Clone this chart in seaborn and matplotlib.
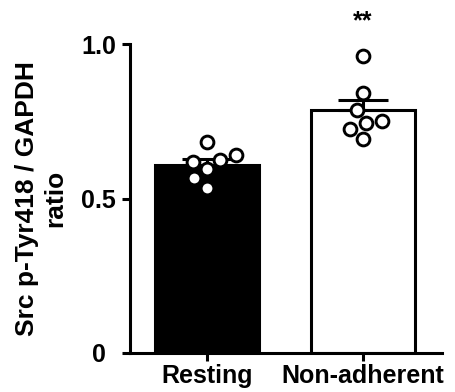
import matplotlib
matplotlib.use("Agg")
import matplotlib.pyplot as plt
import seaborn as sns
import numpy as np
import pandas as pd

groups = ["Resting", "Non-adherent"]
resting_vals = [0.684, 0.641, 0.625, 0.619, 0.595, 0.565, 0.535]
nonadherent_vals = [0.961, 0.842, 0.786, 0.751, 0.743, 0.724, 0.693]
yticks = [0, 0.5, 1.0]
ytick_labels = ["0", "0.5", "1.0"]
bar_colors = ["black", "white"]
ylabel = "Src p-Tyr418 / GAPDH\nratio"
signif = "**"

sns.set_theme(style="ticks")
plt.rcParams["font.family"] = ["Liberation Sans", "DejaVu Sans"]
plt.rcParams["font.weight"] = "bold"
for k in ["text.color", "axes.labelcolor", "xtick.color", "ytick.color",
          "axes.edgecolor"]:
    plt.rcParams[k] = "black"

df = pd.DataFrame({
    "group": [groups[0]] * len(resting_vals) + [groups[1]] * len(nonadherent_vals),
    "value": resting_vals + nonadherent_vals,
})

W, H = 455, 392
x0, x1, yb, yt = 130, 442, 353, 44
fig = plt.figure(figsize=(W / 100, H / 100), dpi=100)
ax = fig.add_axes([x0 / W, (H - yb) / H, (x1 - x0) / W, (yb - yt) / H])
XLIM = (-0.494, 1.506)
ax.set_ylim(0, 1.0)
ax.set_xlim(*XLIM)

sns.barplot(data=df, x="group", y="value", hue="group", palette=bar_colors,
            order=groups, hue_order=groups, errorbar=None, width=0.67,
            edgecolor="black", linewidth=2.2, legend=False, ax=ax, zorder=1)

stats = df.groupby("group")["value"].agg(["mean", "sem"]).reindex(groups)
ax.errorbar(np.arange(len(groups)), stats["mean"].values,
            yerr=[np.zeros(len(groups)), stats["sem"].values],
            fmt="none", ecolor="black", elinewidth=2.2, capsize=18, capthick=2.2,
            zorder=2)

ax.set_xlim(*XLIM)
ax.set_ylim(0, 1.0)
sns.swarmplot(data=df, x="group", y="value", order=groups, color="white",
              edgecolor="black", linewidth=2.1, size=9.2, ax=ax, zorder=3,
              clip_on=False)

ax.text(1, 1.035, signif, ha="center", va="bottom", fontsize=18,
        fontweight="bold", color="black", transform=ax.transData)

ax.set_yticks(yticks)
ax.set_yticklabels(ytick_labels)
ax.set_xlabel("")
ax.set_ylabel(ylabel, fontsize=19, fontweight="bold", linespacing=1.2,
              color="black", va="center", ha="center")
ax.yaxis.set_label_coords((41 - x0) / (x1 - x0), 0.5)
ax.tick_params(axis="both", labelsize=18, width=2.2, length=6,
               direction="out", color="black", labelcolor="black")
ax.tick_params(axis="y", pad=16.5)
ax.tick_params(axis="x", pad=2)
for lab in ax.get_yticklabels():
    lab.set_fontweight("bold")
    lab.set_horizontalalignment("center")
for lab in ax.get_xticklabels():
    lab.set_fontweight("bold")
for s in ["left", "bottom"]:
    ax.spines[s].set_linewidth(2.2)
    ax.spines[s].set_color("black")
for s in ["top", "right"]:
    ax.spines[s].set_visible(False)

ax.set_xlim(*XLIM)
ax.set_ylim(0, 1.0)
fig.savefig("out.png", dpi=100)
